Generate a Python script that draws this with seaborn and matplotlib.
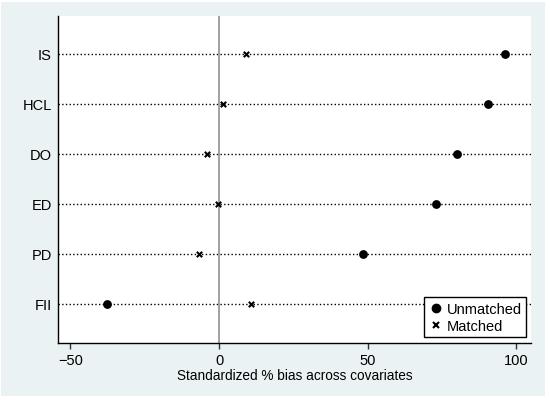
import matplotlib
matplotlib.use("Agg")
import matplotlib.pyplot as plt
from matplotlib.patches import Rectangle
from matplotlib.lines import Line2D
import seaborn as sns
import pandas as pd

# covariates, top to bottom
covariates = ["IS", "HCL", "DO", "ED", "PD", "FII"]
bias_unmatched = [96.3, 90.5, 80.0, 73.0, 48.4, -37.8]
bias_matched = [9.0, 1.5, -3.9, -0.2, -6.7, 10.7]
x_ticks = [-50, 0, 50, 100]

df = pd.DataFrame({
    "covariate": covariates * 2,
    "bias": bias_unmatched + bias_matched,
    "sample": ["Unmatched"] * len(covariates) + ["Matched"] * len(covariates),
})

sns.set_style("white")
plt.rcParams["font.family"] = ["Liberation Sans", "DejaVu Sans"]
plt.rcParams["text.color"] = "black"
plt.rcParams["xtick.color"] = "black"
plt.rcParams["ytick.color"] = "black"
plt.rcParams["axes.labelcolor"] = "black"

fig = plt.figure(figsize=(5.5, 4.02), dpi=100)
fig.patch.set_facecolor("white")
# Stata-like light blue outer region with thin white border
fig.patches.append(Rectangle((1 / 550, 5 / 402), 544 / 550, 394 / 402,
                             transform=fig.transFigure, facecolor="#EAF2F3",
                             edgecolor="none", zorder=-10))
ax = fig.add_axes([58 / 550, 1 - 344 / 402, 473 / 550, 327 / 402])
ax.set_facecolor("white")

ax.axvline(0, color="#9a9a9a", lw=1.3, zorder=1)

sns.scatterplot(data=df[df["sample"] == "Unmatched"], x="bias", y="covariate",
                marker="o", s=40, color="black", edgecolor="black",
                linewidth=0, ax=ax, zorder=3)
sns.scatterplot(data=df[df["sample"] == "Matched"], x="bias", y="covariate",
                marker="x", s=15, color="black", linewidth=1.5, ax=ax, zorder=3)

ax.set_xlim(-54.2, 105)
ax.set_ylim(5.78, -0.76)
ax.set_xticks(x_ticks)
ax.set_xticklabels(["\u221250", "0", "50", "100"])

ax.yaxis.grid(True, linestyle=":", color="black", lw=1.0, zorder=0)
ax.xaxis.grid(False)
ax.set_axisbelow(True)

for side in ["top", "right"]:
    ax.spines[side].set_visible(False)
for side in ["left", "bottom"]:
    ax.spines[side].set_color("black")
    ax.spines[side].set_linewidth(1.0)

ax.tick_params(axis="x", bottom=True, length=4, width=1, color="#333333",
               labelsize=10.5, pad=3)
ax.tick_params(axis="y", left=False, length=0, labelsize=10.5, pad=4.5)
ax.set_ylabel("")
ax.set_xlabel("Standardized % bias across covariates", fontsize=9.8, labelpad=1)

handles = [
    Line2D([], [], marker="o", color="black", linestyle="none", markersize=6),
    Line2D([], [], marker="x", color="black", linestyle="none", markersize=3.8,
           markeredgewidth=1.5),
]
leg = ax.legend(handles, ["Unmatched", "Matched"], loc="lower right",
                bbox_to_anchor=(0.99, 0.018), frameon=True, fancybox=False,
                fontsize=10.5, handletextpad=0.25, handlelength=1.0,
                borderpad=0.3, labelspacing=0.2, borderaxespad=0)
leg.get_frame().set_edgecolor("black")
leg.get_frame().set_linewidth(1.0)
leg.get_frame().set_facecolor("white")
leg.get_frame().set_alpha(1)

fig.savefig("out.png", dpi=100, facecolor=fig.get_facecolor())
